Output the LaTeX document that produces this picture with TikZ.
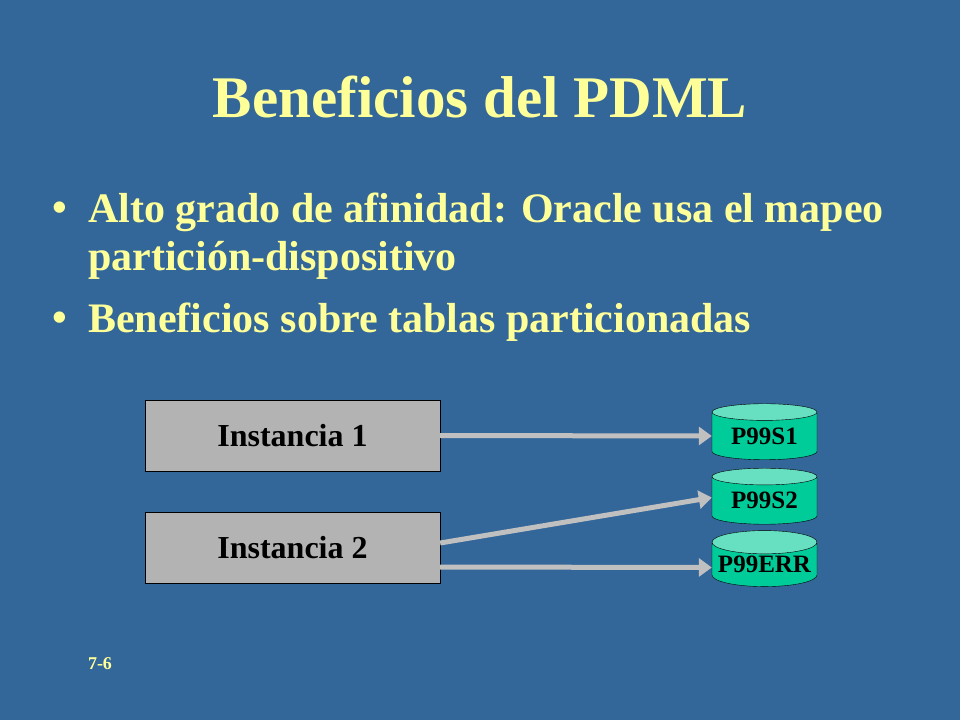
\documentclass[tikz,border=0pt]{standalone}
\usepackage{fontspec}
\setmainfont{Liberation Serif}
\usetikzlibrary{shapes.geometric,arrows.meta}
\definecolor{slide}{HTML}{336699}
\definecolor{ttl}{HTML}{FFFF99}
\definecolor{boxgray}{HTML}{B3B3B3}
\definecolor{disk}{HTML}{00CC99}
\definecolor{disktop}{HTML}{66E0C0}
\definecolor{arr}{HTML}{C0C0C0}
\tikzset{
  inst/.style={draw=black, fill=boxgray, minimum width=295pt, minimum height=71pt, font=\bfseries\fontsize{32}{36}\selectfont},
  dsk/.style={cylinder, shape border rotate=90, draw=black, aspect=0.25, cylinder uses custom fill, cylinder body fill=disk, cylinder end fill=disktop, minimum width=105pt, minimum height=56pt, inner sep=0pt, font=\bfseries\fontsize{25}{28}\selectfont},
  link/.style={arr, line width=5pt, -{Triangle[length=13pt,width=18pt]}},
  btxt/.style={text=ttl, anchor=west, inner sep=0pt, font=\bfseries\fontsize{42}{46}\selectfont}
}
\begin{document}
\begin{tikzpicture}[x=1pt,y=-1pt]
\fill[slide] (0,0) rectangle (960,720);
\node[text=ttl, font=\bfseries\fontsize{59}{64}\selectfont] (title) at (480,97) {Beneficios del PDML};
\node[btxt] (d1) at (52,212) {\textbullet};
\node[btxt] (b1) at (88,212) {Alto grado de afinidad: Oracle usa el mapeo};
\node[btxt] (b1b) at (88,260) {partición-dispositivo};
\node[btxt] (d2) at (52,322) {\textbullet};
\node[btxt] (b2) at (88,322) {Beneficios sobre tablas particionadas};
\node[inst] (i1) at (292.5,435.5) {Instancia 1};
\node[inst] (i2) at (292.5,548) {Instancia 2};
\node[dsk] (s1) at (764.5,436) {P99S1};
\node[dsk] (s2) at (764.5,500.5) {P99S2};
\node[dsk] (err) at (764.5,564.5) {P99ERR};
\draw[link] (i1.east) -- (s1.west);
\draw[link] ([yshift=5pt]i2.east) -- ([yshift=3pt]s2.west);
\draw[link] ([yshift=-19pt]i2.east) -- ([yshift=-3pt]err.west);
\node[text=ttl, font=\bfseries\fontsize{18}{20}\selectfont] (pg) at (100,664) {7-6};
\end{tikzpicture}
\end{document}
